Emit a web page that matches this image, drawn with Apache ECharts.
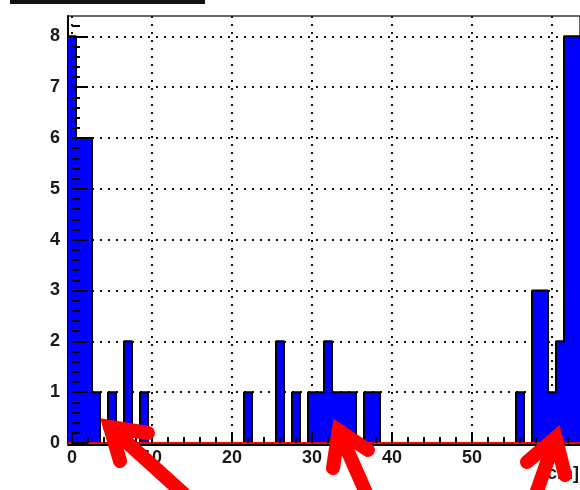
<!DOCTYPE html>
<html><head><meta charset="utf-8">
<script src="https://cdn.jsdelivr.net/npm/echarts@6/dist/echarts.min.js"></script>
<style>html,body{margin:0;padding:0;background:#fff;}#c{width:580px;height:490px;}</style>
</head><body><div id="c"></div>
<script>
// ---- data ----
const binStart = -0.5;
const binWidth = 1;
const counts = [8,6,6,1,0,1,0,2,0,1,
                0,0,0,0,0,0,0,0,0,0,
                0,0,1,0,0,0,2,0,1,0,
                1,1,2,1,1,1,0,1,1,0,
                0,0,0,0,0,0,0,0,0,0,
                0,0,0,0,0,0,1,0,3,3,
                1,2,8,8];
const redLevel = 0;
const xRange = [-0.5, 63.5];
const yRange = [0, 8.4];
const xTicks = [0,10,20,30,40,50,60];
const yTicks = [0,1,2,3,4,5,6,7,8];
const xTitle = '[cm]';

const xMinor = [];
for (let v = 2; v < xRange[1]; v += 2) if (v % 10 !== 0) xMinor.push(v);
const yMinor = [];
for (let i = 1; i <= 41; i++) { if (i % 5 !== 0) yMinor.push(+(i * 0.2).toFixed(1)); }

const stepData = counts.map((c, i) => [binStart + i * binWidth, c]);
stepData.push([binStart + counts.length * binWidth, counts[counts.length - 1]]);

const labelFont = {color:'#1a1a1a', fontSize:18, fontWeight:'bold', fontFamily:'Liberation Sans, Arial, sans-serif'};
const dotted = {color:'#111', width:2, type:[2,6]};

function xAx(extra){ return Object.assign({type:'value', min:xRange[0], max:xRange[1], position:'bottom',
  axisLine:{show:false}, axisTick:{show:false}, axisLabel:{show:false}, splitLine:{show:false}}, extra); }
function yAx(extra){ return Object.assign({type:'value', min:yRange[0], max:yRange[1], position:'left',
  axisLine:{show:false}, axisTick:{show:false}, axisLabel:{show:false}, splitLine:{show:false}}, extra); }

function arrow(tip, w1, w2, tail){
  return [
    {type:'polyline', z:100, shape:{points:[tip, tail]}, style:{stroke:'#ff0000', lineWidth:14, lineCap:'round', fill:null}},
    {type:'polyline', z:100, shape:{points:[w1, tip, w2]}, style:{stroke:'#ff0000', lineWidth:14, lineCap:'round', lineJoin:'miter', fill:null}}
  ];
}

const chart = echarts.init(document.getElementById('c'), null, {renderer:'canvas'});
chart.setOption({
  animation:false,
  backgroundColor:'#fff',
  grid:{left:68, right:0, top:16, bottom:47, show:true, borderColor:'#333', borderWidth:1.5, backgroundColor:'rgba(0,0,0,0)', containLabel:false, outerBoundsMode:'none'},
  xAxis:[
    xAx({z:0, splitLine:{show:true, lineStyle:dotted},
         axisTick:{show:false, customValues:xTicks}, axisLabel:{show:false, customValues:xTicks}}),
    xAx({z:3, offset:1.5, axisLine:{show:true, onZero:false, lineStyle:{color:'#000', width:2}}}),
    xAx({z:3, axisTick:{show:true, inside:true, length:11, customValues:xTicks, lineStyle:{color:'#000', width:2}},
         axisLabel:Object.assign({show:true, customValues:xTicks, margin:6}, labelFont)}),
    xAx({z:3, axisTick:{show:true, inside:true, length:6, customValues:xMinor, lineStyle:{color:'#000', width:2}}})
  ],
  yAxis:[
    yAx({z:0, interval:1, axisLine:{show:true, onZero:false, lineStyle:{color:'#000', width:2}},
         axisTick:{show:false, customValues:yTicks}, axisLabel:{show:false, customValues:yTicks},
         splitLine:{show:true, lineStyle:dotted}}),
    yAx({z:3, axisTick:{show:true, inside:true, length:16, customValues:yTicks, lineStyle:{color:'#000', width:2}},
         axisLabel:Object.assign({show:true, customValues:yTicks, margin:8}, labelFont)}),
    yAx({z:3, axisTick:{show:true, inside:true, length:8, customValues:yMinor, lineStyle:{color:'#000', width:2}}})
  ],
  series:[
    {type:'line', step:'end', data:stepData, symbol:'none', xAxisIndex:0, yAxisIndex:0, z:2,
     lineStyle:{color:'#000', width:2}, areaStyle:{color:'#0000ff', opacity:1}},
    {type:'line', data:[[xRange[0], redLevel],[xRange[1], redLevel]], symbol:'none', xAxisIndex:0, yAxisIndex:0, z:2.5,
     lineStyle:{color:'#ff0000', width:2}}
  ],
  graphic:[
    {type:'rect', z:50, shape:{x:10, y:-4, width:195, height:8}, style:{fill:'#111'}},
    {type:'text', z:50, x:579, y:474, style:{text:xTitle, align:'right', verticalAlign:'middle',
      fill:'#1a1a1a', font:'bold 18px "Liberation Sans", Arial, sans-serif'}},
    ...arrow([110,427],[148,433],[120,461],[185,495]),
    ...arrow([338.7,430.6],[368,450],[333,468],[367,495]),
    ...arrow([555.6,437.7],[527,462],[565,475],[535.6,495])
  ]
});
</script></body></html>
